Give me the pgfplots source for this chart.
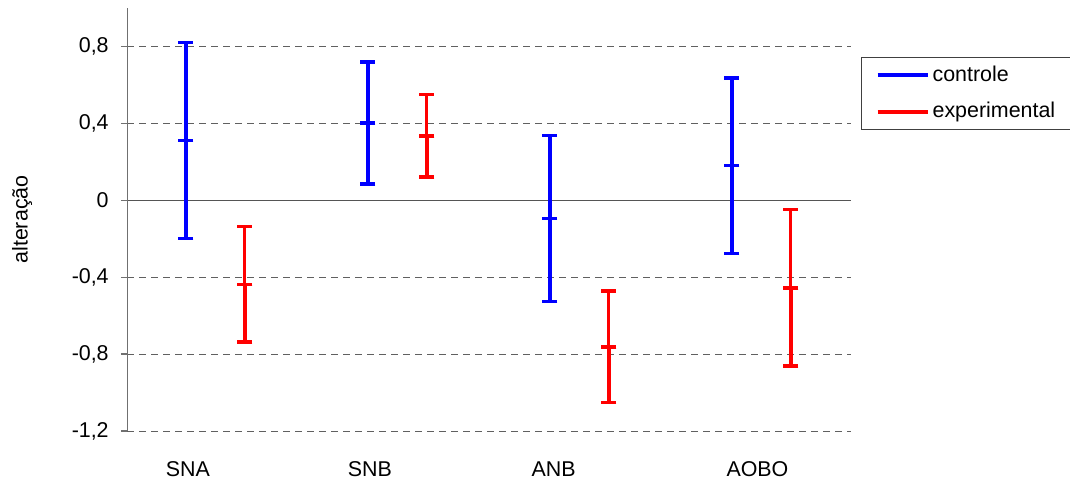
\documentclass[border=0pt]{standalone}
\usepackage{fontspec}
\setmainfont{Liberation Sans}
\usepackage{pgfplots}
\pgfplotsset{compat=1.18}
\definecolor{axgray}{HTML}{707070}
\definecolor{zerogray}{HTML}{555555}
\definecolor{gridgray}{HTML}{606060}
\pgfplotstableread{
x y e
0 0.310 0.510
1 0.401 0.317
2 -0.095 0.432
3 0.180 0.457
}\controle
\pgfplotstableread{
x y e
0.324 -0.437 0.300
1.324 0.335 0.215
2.324 -0.762 0.291
3.324 -0.455 0.406
}\experimental
\begin{document}
\fontsize{21.5}{25}\selectfont
\begin{tikzpicture}
\path[use as bounding box] (0,0) rectangle (1070bp,479bp);
\begin{axis}[
  at={(127bp,48bp)}, anchor=south west, scale only axis,
  width=724bp, height=423bp,
  xmin=-0.324, xmax=3.654, ymin=-1.2, ymax=1.0,
  axis line style={draw=none},
  xtick={0.01,1.01,2.02,3.14}, xticklabels={SNA,SNB,ANB,AOBO},
  x tick style={draw=none},
  xticklabel style={anchor=base, yshift=-39bp},
  ytick={-1.2,-0.8,-0.4,0,0.4,0.8},
  yticklabels={{-1,2},{-0,8},{-0,4},{0},{0,4},{0,8}},
  ytick pos=left, tick align=outside, major tick length=6bp,
  y tick style={axgray, line width=1.3bp},
  yticklabel style={anchor=east, xshift=-5bp},
  ymajorgrids,
  major grid style={gridgray, line width=1bp, dash pattern=on 7bp off 5bp},
  ylabel={alteração},
  ylabel style={at={(axis description cs:-0.145,0.5)}, anchor=center},
  legend style={at={(1.0138,0.884)}, anchor=north west, draw=black!75,
    line width=1.2bp, inner xsep=14bp, inner ysep=6bp,
    nodes={inner sep=2bp}, row sep=14bp, column sep=1bp},
  legend cell align=left,
  legend image code/.code={\draw[#1] (0bp,0bp) -- (50bp,0bp);},
]
\draw[zerogray, line width=1.4bp] (axis cs:-0.324,0) -- (axis cs:3.654,0);
\draw[axgray, line width=1.5bp] (rel axis cs:0,0) -- (rel axis cs:0,1);
\addplot[blue, forget plot, only marks, mark=-, mark size=7.5bp,
  mark options={line width=3.5bp},
  error bars/.cd, y dir=both, y explicit,
  error bar style={line width=4bp},
  error mark options={rotate=90, mark size=7.5bp, line width=3.5bp}]
  table[x=x, y=y, y error=e] {\controle};
\addplot[red, forget plot, only marks, mark=-, mark size=7.5bp,
  mark options={line width=3.5bp},
  error bars/.cd, y dir=plus, y explicit,
  error bar style={line width=3bp},
  error mark options={rotate=90, mark size=7.5bp, line width=3.5bp}]
  table[x=x, y=y, y error=e] {\experimental};
\addplot[red, forget plot, only marks, mark=-, mark size=7.5bp,
  mark options={line width=3.5bp},
  error bars/.cd, y dir=minus, y explicit,
  error bar style={line width=4bp},
  error mark options={rotate=90, mark size=7.5bp, line width=3.5bp}]
  table[x=x, y=y, y error=e] {\experimental};
\addlegendimage{blue, line width=4bp}
\addlegendentry{controle}
\addlegendimage{red, line width=4bp}
\addlegendentry{experimental}
\end{axis}
\end{tikzpicture}
\end{document}
